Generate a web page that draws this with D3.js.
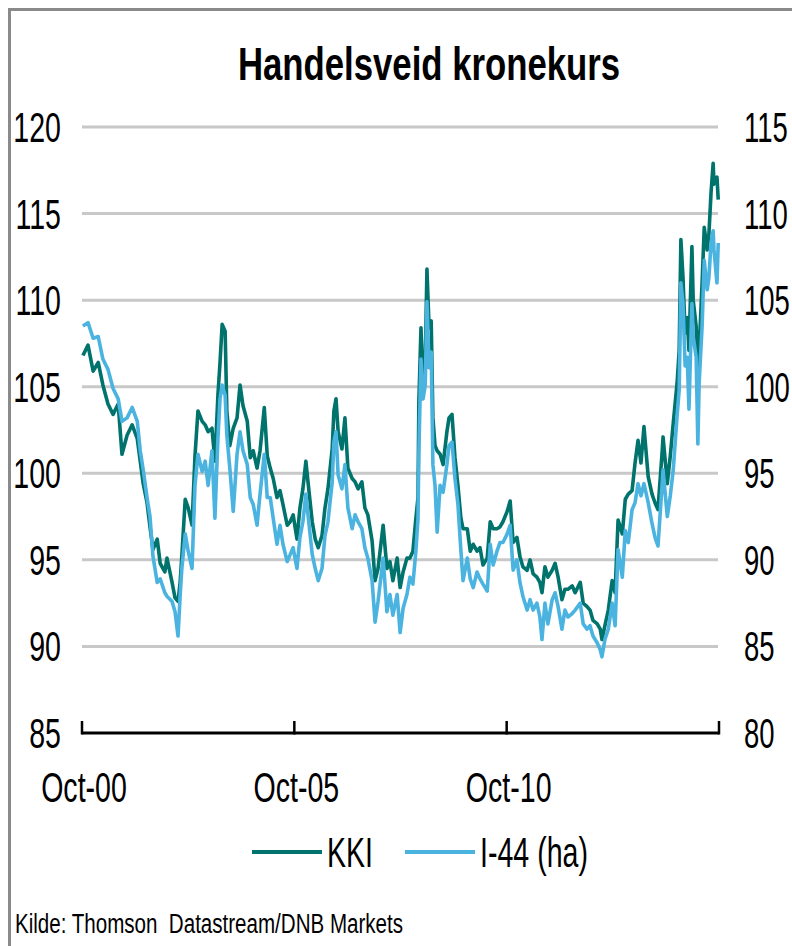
<!DOCTYPE html>
<html><head><meta charset="utf-8">
<script src="https://cdn.jsdelivr.net/npm/d3@7"></script>
<style>body{margin:0;background:#fff} svg{display:block}</style>
</head><body>
<svg id="chart" width="792" height="946"></svg>
<script>
// ---- data (decimal years, KKI on left axis, I-44 on right axis) ----
const decYears = [
2000.77,2000.89,2001.01,2001.13,2001.24,2001.36,2001.48,2001.60,2001.69,2001.81,2001.93,2002.05,2002.12,2002.19,2002.28,2002.35,2002.42,2002.52,2002.59,2002.70,2002.75,2002.87,2002.94,2003.01,2003.06,2003.10,
2003.18,2003.25,2003.34,2003.41,2003.48,2003.58,2003.65,2003.72,2003.81,2003.88,2003.95,2004.00,2004.05,2004.12,2004.16,2004.23,2004.31,2004.40,2004.47,2004.54,2004.64,2004.71,2004.78,2004.87,2004.94,2005.04,2005.11,2005.18,2005.25,2005.34,2005.41,2005.48,2005.58,
2005.65,2005.72,2005.81,2005.88,2005.95,2006.02,2006.07,2006.17,2006.24,2006.31,2006.40,2006.47,2006.54,2006.64,2006.68,2006.73,2006.78,2006.87,2006.94,2007.01,2007.11,2007.18,2007.25,2007.34,2007.41,2007.48,2007.58,2007.65,2007.72,2007.84,2007.93,2008.00,2008.07,2008.17,2008.24,2008.31,2008.40,
2008.47,2008.54,2008.61,2008.66,2008.68,2008.73,2008.78,2008.83,2008.87,2008.92,2008.97,2009.01,2009.06,2009.11,2009.18,2009.25,2009.34,2009.39,2009.46,2009.53,2009.60,2009.67,2009.72,2009.82,2009.89,2009.96,2010.05,2010.12,2010.19,2010.29,2010.36,2010.43,2010.52,2010.59,2010.66,2010.76,2010.83,
2010.90,2010.99,2011.06,2011.13,2011.23,2011.30,2011.37,2011.46,2011.53,2011.58,2011.65,2011.72,2011.82,2011.89,2011.96,2012.05,2012.12,2012.19,2012.29,2012.36,2012.48,2012.55,2012.64,2012.71,2012.78,2012.88,2012.95,2012.99,2013.06,2013.14,2013.23,2013.30,2013.37,2013.47,2013.54,2013.61,2013.70,2013.77,2013.84,2013.91,
2013.98,2014.08,2014.17,2014.24,2014.31,2014.41,2014.43,2014.53,2014.60,2014.67,2014.76,2014.81,2014.85,2014.90,2014.95,2015.00,2015.04,2015.11,2015.14,2015.21,2015.25,2015.28,2015.35,2015.40,2015.47,2015.51,2015.56,2015.61,2015.63,2015.70,2015.73
];
const kki = [
106.8,107.4,105.9,106.4,105.1,104.0,103.4,104.0,101.1,102.2,102.8,102.0,100.7,99.4,98.3,96.9,95.6,96.2,94.8,94.3,95.1,93.7,92.8,92.6,93.7,95.2,
98.5,98.0,97.0,101.0,103.6,103.0,102.8,102.4,102.6,100.7,104.5,106.4,108.6,108.2,103.6,101.6,102.6,103.2,105.1,103.9,103.0,100.9,101.3,100.3,101.3,103.8,101.0,100.3,99.7,98.6,99.0,98.2,97.0,
97.2,97.6,96.2,98.0,99.1,100.7,99.5,97.2,96.2,95.7,96.4,98.0,99.1,101.4,103.6,104.3,102.4,101.4,103.2,100.3,99.7,99.5,99.1,99.5,98.0,97.6,96.1,93.8,94.5,97.0,94.5,94.9,93.8,95.1,93.4,94.3,95.1,
95.1,95.5,97.4,98.6,104.1,108.4,105.1,106.4,111.8,108.4,108.8,103.2,101.6,101.3,101.1,100.5,102.4,103.2,103.4,100.9,99.3,97.4,96.8,96.8,95.5,95.9,95.5,95.7,94.7,95.1,97.2,96.8,96.8,96.9,97.2,97.8,98.4,
96.0,96.3,95.2,94.6,94.4,95.0,94.2,94.0,93.7,93.1,94.6,94.0,94.4,94.8,94.0,92.7,93.3,93.3,93.5,93.1,93.7,92.5,92.3,92.1,91.5,91.3,91.0,90.4,91.2,92.1,93.8,93.1,97.3,96.5,98.5,98.8,99.0,100.6,101.9,100.6,
102.7,99.8,98.8,98.3,97.9,101.3,102.1,99.4,101.0,102.9,105.2,107.1,113.5,111.3,108.1,109.0,107.1,113.1,110.0,108.5,105.6,107.1,111.0,114.2,112.9,113.8,116.2,117.9,116.7,117.1,115.8
];
const i44 = [
103.5,103.7,102.8,102.9,101.6,101.0,99.9,99.3,98.0,98.2,98.8,98.0,96.3,95.2,93.6,92.5,90.2,88.7,88.9,88.1,87.9,87.6,87.0,85.6,87.9,89.5,
91.5,90.5,89.5,94.3,96.1,95.1,95.7,94.3,96.3,92.4,97.0,99.3,100.1,99.5,97.2,95.3,92.8,96.1,97.4,96.3,95.5,93.6,93.2,92.0,93.8,96.1,93.6,93.6,92.4,90.9,92.0,90.9,89.9,
90.3,90.7,89.5,91.3,92.2,93.8,92.6,90.3,89.5,88.8,89.5,91.4,92.2,94.5,96.8,97.4,94.9,94.1,95.5,93.0,91.8,92.6,92.2,91.8,90.7,90.1,88.8,86.4,87.6,90.1,87.0,88.0,86.8,88.0,85.8,87.2,88.0,
89.0,88.6,90.5,92.4,96.2,101.6,99.3,100.1,104.9,101.1,102.0,95.5,94.3,91.6,94.3,93.9,95.5,96.6,96.8,94.7,93.2,90.5,88.8,90.1,88.9,88.4,89.3,88.9,88.6,88.2,90.9,89.7,90.5,91.0,91.0,91.5,92.0,
89.4,90.0,88.7,87.9,87.1,87.7,87.1,87.5,86.7,85.4,87.5,86.3,87.7,88.1,87.3,86.0,87.1,86.7,86.9,87.1,87.5,86.3,86.0,86.2,85.6,85.2,84.8,84.4,85.4,86.0,87.5,86.2,90.6,89.0,91.7,91.0,92.9,93.3,94.4,93.7,
94.4,93.3,92.1,91.3,90.8,94.4,95.2,92.5,93.7,95.2,98.3,99.8,106.0,104.8,101.2,101.7,98.7,104.8,102.9,101.7,96.7,100.2,103.5,107.3,105.6,106.3,108.3,109.0,107.9,106.0,108.3
];
const leftTicks = [85,90,95,100,105,110,115,120];
const rightTicks = [80,85,90,95,100,105,110,115];
const xTickDates = ["2000-10-01","2005-10-01","2010-10-01","2015-10-01"];
const xTickLabels = ["Oct-00","Oct-05","Oct-10",""];
const seriesNames = ["KKI","I-44 (ha)"];
const seriesColors = ["#00736c","#4ab3e0"];
const titleText = "Handelsveid kronekurs";
const sourceText = "Kilde: Thomson  Datastream/DNB Markets";

// ---- helpers ----
const toDate = y => { const yr = Math.floor(y); const s = Date.UTC(yr,0,1), e = Date.UTC(yr+1,0,1); return new Date(s + (y-yr)*(e-s)); };
const FONT = "'Liberation Sans', Arial, sans-serif";
const SX = 0.68;

const svg = d3.select("#chart");
const m = {left:82, right:719, top:127, bottom:733};

const x = d3.scaleUtc().domain([new Date("2000-10-01"), new Date("2015-10-01")]).range([m.left, m.right]);
const yL = d3.scaleLinear().domain([85,120]).range([m.bottom, m.top]);
const yR = d3.scaleLinear().domain([80,115]).range([m.bottom, m.top]);

// frame
svg.append("rect").attr("x",9.5).attr("y",9.5).attr("width",820).attr("height",980)
  .attr("fill","none").attr("stroke","#8a8a8a").attr("stroke-width",3);

// title
svg.append("g").attr("transform","translate(429,80)")
  .append("text").attr("transform","scale(0.755,1)").attr("text-anchor","middle")
  .attr("font-family",FONT).attr("font-weight","bold").attr("font-size",46).attr("fill","#000").text(titleText);

// gridlines
svg.append("g").selectAll("line").data(leftTicks.filter(d=>d>85)).join("line")
  .attr("x1",m.left).attr("x2",m.right-1).attr("y1",d=>yL(d)).attr("y2",d=>yL(d))
  .attr("stroke","#c8c8c8").attr("stroke-width",3);

// axis labels
const lab = (g, data, scale, xpos, anchor, sx) => {
  g.selectAll("g").data(data).join("g")
    .attr("transform",d=>`translate(${xpos},${scale(d)+15})`)
    .append("text").attr("transform",`scale(${sx},1)`).attr("text-anchor",anchor)
    .attr("font-family",FONT).attr("font-size",42).attr("fill","#000").text(d=>d);
};
lab(svg.append("g"), leftTicks, yL, 61, "end", SX);
lab(svg.append("g"), rightTicks, yR, 744, "start", 0.655);

// series
const pts = decYears.map((d,i)=>({date:toDate(d), k:kki[i], h:i44[i]}));
const lineK = d3.line().x(d=>x(d.date)).y(d=>yL(d.k));
const lineH = d3.line().x(d=>x(d.date)).y(d=>yR(d.h));
svg.append("path").datum(pts).attr("d",lineK).attr("fill","none")
  .attr("stroke",seriesColors[0]).attr("stroke-width",3.6).attr("stroke-linejoin","round");
svg.append("path").datum(pts).attr("d",lineH).attr("fill","none")
  .attr("stroke",seriesColors[1]).attr("stroke-width",3.6).attr("stroke-linejoin","round");

// x axis
const xa = svg.append("g");
xa.append("line").attr("x1",m.left).attr("x2",m.right).attr("y1",m.bottom).attr("y2",m.bottom)
  .attr("stroke","#000").attr("stroke-width",3);
xa.selectAll("line.tick").data(xTickDates).join("line").attr("class","tick")
  .attr("x1",d=>x(new Date(d))).attr("x2",d=>x(new Date(d)))
  .attr("y1",m.bottom-12).attr("y2",m.bottom+1.5).attr("stroke","#000").attr("stroke-width",2.5);
xa.selectAll("g.lbl").data(xTickDates.map((d,i)=>({d,l:xTickLabels[i]})).filter(o=>o.l)).join("g").attr("class","lbl")
  .attr("transform",o=>`translate(${x(new Date(o.d))+2},802)`)
  .append("text").attr("transform",`scale(${SX},1)`).attr("text-anchor","middle")
  .attr("font-family",FONT).attr("font-size",42).attr("fill","#000").text(o=>o.l);

// legend
const legendPos = [252, 405];
seriesNames.forEach((n,i)=>{
  const g = svg.append("g").attr("transform",`translate(${legendPos[i]},0)`);
  g.append("line").attr("x1",0).attr("x2",70).attr("y1",852).attr("y2",852)
    .attr("stroke",seriesColors[i]).attr("stroke-width",4);
  g.append("g").attr("transform","translate(75,867)").append("text").attr("transform",`scale(${SX},1)`)
    .attr("font-family",FONT).attr("font-size",42).attr("fill","#000").text(n);
});

// source
svg.append("text").attr("x",15).attr("y",933).attr("font-family",FONT).attr("font-size",27)
  .style("white-space","pre")
  .attr("textLength",388).attr("lengthAdjust","spacingAndGlyphs").attr("fill","#000").text(sourceText);
</script>
</body></html>
